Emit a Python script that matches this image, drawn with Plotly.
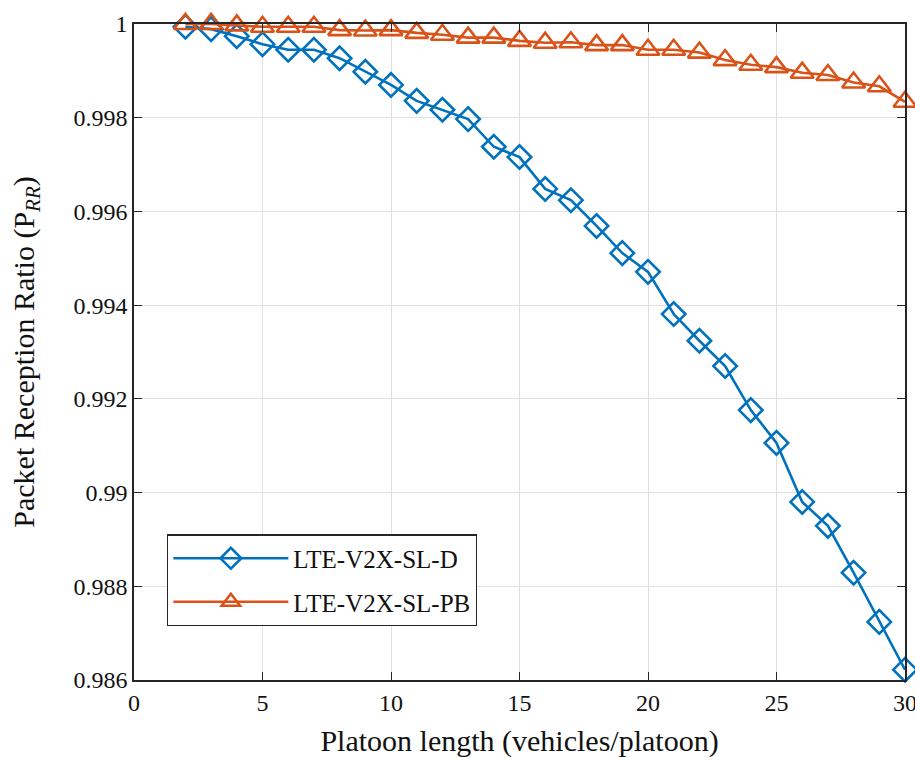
import plotly.graph_objects as go

# Platoon length (vehicles per platoon)
platoon_len = list(range(2, 31))

# Packet reception ratio for each scheme
prr_sl_d = [0.99994, 0.99989, 0.99974, 0.99957, 0.99945, 0.99945, 0.99927, 0.99898,
            0.99870, 0.99836, 0.99817, 0.99797, 0.99738, 0.99716, 0.99648, 0.99624,
            0.99569, 0.99511, 0.99471, 0.99381, 0.99324, 0.99270, 0.99176, 0.99106,
            0.98980, 0.98929, 0.98829, 0.98724, 0.98622]
prr_sl_pb = [1.00000, 1.00000, 0.99997, 0.99994, 0.99994, 0.99994, 0.99987, 0.99986,
             0.99987, 0.99981, 0.99977, 0.99971, 0.99971, 0.99964, 0.99960, 0.99961,
             0.99955, 0.99955, 0.99945, 0.99945, 0.99939, 0.99923, 0.99913, 0.99908,
             0.99896, 0.99891, 0.99875, 0.99867, 0.99834]

series_names = ["LTE-V2X-SL-D", "LTE-V2X-SL-PB"]

x_ticks = [0, 5, 10, 15, 20, 25, 30]
y_ticks = [0.986, 0.988, 0.99, 0.992, 0.994, 0.996, 0.998, 1.0]
y_tick_text = ["0.986", "0.988", "0.99", "0.992", "0.994", "0.996", "0.998", "1"]

BLUE = "#0072BD"
ORANGE = "#D95319"
FRAME = "#262626"
GRID = "#e0e0e0"
FONT = "Liberation Serif"

fig = go.Figure()
fig.add_trace(go.Scatter(
    x=platoon_len, y=prr_sl_d, name=series_names[0], mode="lines+markers",
    line=dict(color=BLUE, width=2.6),
    marker=dict(symbol="diamond-open", size=18, color=BLUE, line=dict(width=2.6, color=BLUE)),
    cliponaxis=False, legendgroup="a",
))
fig.add_trace(go.Scatter(
    x=platoon_len, y=prr_sl_pb, name=series_names[1], mode="lines+markers",
    line=dict(color=ORANGE, width=2.6),
    marker=dict(symbol="triangle-up-open", size=20, color=ORANGE, line=dict(width=2.6, color=ORANGE)),
    cliponaxis=False, legendgroup="b",
))

axis_common = dict(
    showline=True, linecolor=FRAME, linewidth=1.5, mirror="ticks",
    ticks="inside", ticklen=8, tickwidth=1.2, tickcolor=FRAME,
    showgrid=True, gridcolor=GRID, gridwidth=1.3, zeroline=False,
    tickfont=dict(family=FONT, size=24, color="#111111"),
    ticklabeloverflow="allow",
)

fig.update_xaxes(
    range=[0, 30], tickvals=x_ticks,
    title=dict(text="Platoon length (vehicles/platoon)",
               font=dict(family=FONT, size=30, color="#111111"), standoff=16),
    **axis_common,
)
fig.update_yaxes(
    range=[0.986, 1.0], tickvals=y_ticks, ticktext=y_tick_text,
    title=dict(text="Packet Reception Ratio (P<sub><i>RR</i></sub>)",
               font=dict(family=FONT, size=30, color="#111111"), standoff=30),
    **axis_common,
)

fig.update_layout(
    width=915, height=758,
    margin=dict(l=134, r=10, t=24, b=78, autoexpand=False),
    paper_bgcolor="white", plot_bgcolor="white",
    showlegend=True,
    legend=dict(
        x=0.043, y=0.222, xanchor="left", yanchor="top",
        bgcolor="white", bordercolor=FRAME, borderwidth=1.2,
        font=dict(family=FONT, size=25, color="#111111"),
        traceorder="grouped", tracegroupgap=8, itemwidth=115,
    ),
)

fig.write_html("out.html")
